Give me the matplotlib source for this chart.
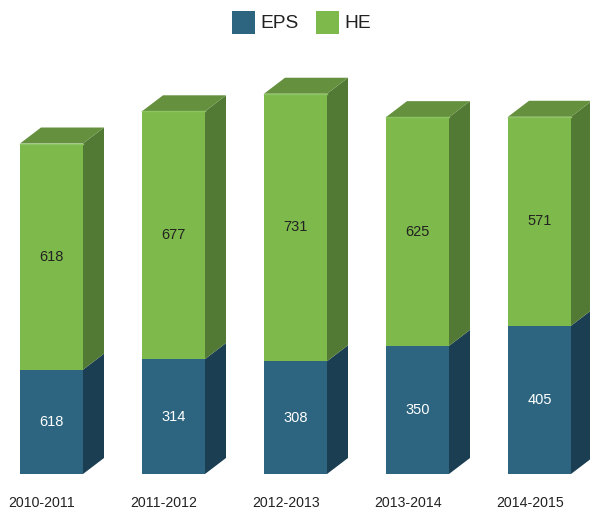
import matplotlib
matplotlib.use("Agg")
import matplotlib.pyplot as plt
from matplotlib.patches import Polygon, Rectangle

categories = ["2010-2011", "2011-2012", "2012-2013", "2013-2014", "2014-2015"]
eps = [285, 314, 308, 350, 405]
eps_labels = ["618", "314", "308", "350", "405"]
he = [618, 677, 731, 625, 571]
he_labels = ["618", "677", "731", "625", "571"]

plt.rcParams['font.family'] = ['Liberation Sans', 'DejaVu Sans']

W, H = 590, 511
fig = plt.figure(figsize=(W / 100, H / 100), dpi=100)
ax = fig.add_axes([0, 37 / H, 1, 414 / H])
scale = 0.366  # px per unit
ax.set_xlim(-51.5 / 122, (590 - 51.5) / 122)
ax.set_ylim(0, 414 / scale)
ax.axis("off")

bw = 63 / 122
dx = 21 / 122
dy = 16 / scale

colors = {
    "EPS": dict(front="#2D6580", side="#1B3E52", top="#24536A"),
    "HE": dict(front="#7DBA4B", side="#537A35", top="#65913E"),
}

for i in range(len(categories)):
    x0, x1 = i - bw / 2, i + bw / 2
    segs = [("EPS", 0, eps[i], eps_labels[i], "white"),
            ("HE", eps[i], eps[i] + he[i], he_labels[i], "#222222")]
    for k, (name, y0, y1, lab, tc) in enumerate(segs):
        c = colors[name]
        ax.add_patch(Polygon([(x1, y0), (x1 + dx, y0 + dy), (x1 + dx, y1 + dy), (x1, y1)],
                             closed=True, facecolor=c["side"], edgecolor="none"))
        ax.add_patch(Rectangle((x0, y0), bw, y1 - y0, facecolor=c["front"], edgecolor="none"))
        if k == len(segs) - 1:
            ax.add_patch(Polygon([(x0, y1), (x1, y1), (x1 + dx, y1 + dy), (x0 + dx, y1 + dy)],
                                 closed=True, facecolor=c["top"], edgecolor="none"))
            ax.plot([x0, x1], [y1, y1], color="#8CC461", lw=1)
        ax.text(i, (y0 + y1) / 2, lab, ha="center", va="center", fontsize=10.5, color=tc)
    ax.text(i - 0.078, -29 / scale, categories[i], ha="center", va="center",
            fontsize=10.2, color="#222222", clip_on=False)

# legend
def fx(px):
    return px / W

def fy(py):
    return 1 - py / H

fig.patches.append(Rectangle((fx(232), fy(34)), 23 / W, 23 / H, transform=fig.transFigure,
                             facecolor=colors["EPS"]["front"], edgecolor="none"))
fig.text(fx(260), fy(23.5), "EPS", ha="left", va="center", fontsize=13.8, color="#222222")
fig.patches.append(Rectangle((fx(316), fy(34)), 23 / W, 23 / H, transform=fig.transFigure,
                             facecolor=colors["HE"]["front"], edgecolor="none"))
fig.text(fx(344), fy(23.5), "HE", ha="left", va="center", fontsize=13.8, color="#222222")

fig.savefig("out.png", dpi=100)
